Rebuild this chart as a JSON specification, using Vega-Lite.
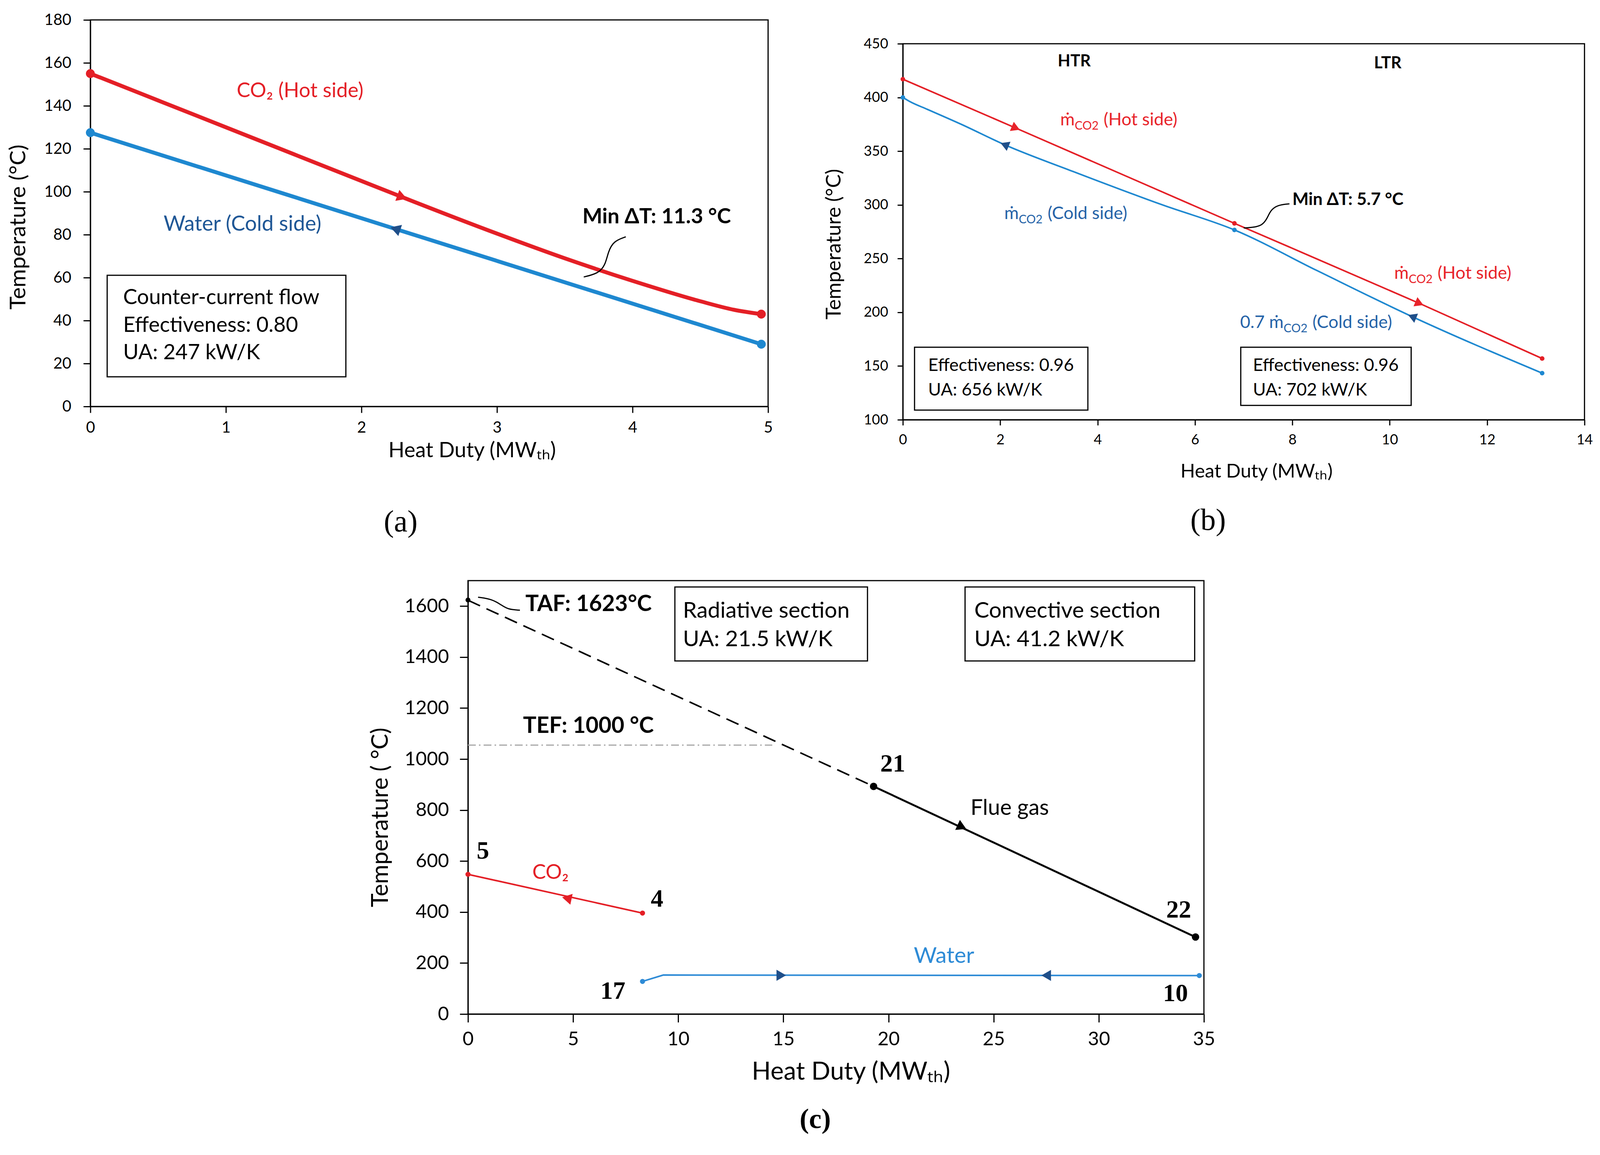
{
  "$schema": "https://vega.github.io/schema/vega-lite/v6.json",
  "background": "white",
  "padding": {"left": 17, "top": 29, "right": 0, "bottom": 0},
  "spacing": 106,
  "center": true,
  "vconcat": [
    {
      "spacing": 127,
      "hconcat": [
        {
          "width": 1735,
          "height": 990,
          "title": {"text": "(a)", "orient": "bottom", "anchor": "middle", "offset": 118, "dx": -73, "font": "Liberation Serif", "fontSize": 78, "fontWeight": "normal", "color": "black"},
          "encoding": {
            "x": {"field": "q", "type": "quantitative", "scale": {"domain": [0, 5], "nice": false}, "title": "Heat Duty (MWₜₕ)",
              "axis": {"values": [0, 1, 2, 3, 4, 5], "tickSize": 16, "labelPadding": 18, "labelFontSize": 40, "titleFontSize": 54, "titlePadding": 12, "titleX": 977}},
            "y": {"field": "t", "type": "quantitative", "scale": {"domain": [0, 180], "nice": false}, "title": "Temperature  (°C)",
              "axis": {"values": [0, 20, 40, 60, 80, 100, 120, 140, 160, 180], "tickSize": 18, "labelPadding": 31, "labelFontSize": 40, "titleFontSize": 57, "titlePadding": 36, "titleY": 530}}
          },
          "layer": [
            {
              "data": {"values": [{"q": 0.124, "q2": 1.885, "t": 61.1, "t2": 13.8}]},
              "mark": {"type": "rect", "fill": "white", "stroke": "black", "strokeWidth": 3},
              "encoding": {"x2": {"field": "q2"}, "y2": {"field": "t2"}}
            },
            {
              "data": {"values": [
                {"q": 0.242, "t": 50.5, "label": "Counter-current  flow"},
                {"q": 0.242, "t": 37.6, "label": "Effectiveness: 0.80"},
                {"q": 0.242, "t": 24.9, "label": "UA: 247 kW/K"}
              ]},
              "mark": {"type": "text", "align": "left", "baseline": "middle", "fontSize": 54, "color": "black"},
              "encoding": {"text": {"field": "label"}}
            },
            {
              "data": {"values": [
                {"s": "CO2", "q": 0, "t": 155},
                {"s": "CO2", "q": 1, "t": 130},
                {"s": "CO2", "q": 2, "t": 105},
                {"s": "CO2", "q": 2.3, "t": 97.5},
                {"s": "CO2", "q": 3, "t": 80.5},
                {"s": "CO2", "q": 3.5, "t": 69},
                {"s": "CO2", "q": 4, "t": 58.5},
                {"s": "CO2", "q": 4.5, "t": 49},
                {"s": "CO2", "q": 4.75, "t": 45},
                {"s": "CO2", "q": 4.95, "t": 43},
                {"s": "Water", "q": 0, "t": 127.5},
                {"s": "Water", "q": 2.25, "t": 82.7},
                {"s": "Water", "q": 4.95, "t": 29}
              ]},
              "mark": {"type": "line", "strokeWidth": 10, "interpolate": "monotone"},
              "encoding": {"color": {"field": "s", "type": "nominal", "scale": {"domain": ["CO2", "Water"], "range": ["#e41f26", "#1e88d0"]}, "legend": null}}
            },
            {
              "data": {"values": [
                {"s": "CO2", "q": 0, "t": 155},
                {"s": "CO2", "q": 4.95, "t": 43},
                {"s": "Water", "q": 0, "t": 127.5},
                {"s": "Water", "q": 4.95, "t": 29}
              ]},
              "mark": {"type": "point", "filled": true, "opacity": 1, "size": 520},
              "encoding": {"color": {"field": "s", "type": "nominal", "legend": null}}
            },
            {
              "data": {"values": [{"q": 2.3, "t": 97.5}]},
              "mark": {"type": "point", "shape": "triangle-right", "angle": 20, "filled": true, "opacity": 1, "size": 900, "color": "#e41f26"},
              "encoding": {}
            },
            {
              "data": {"values": [{"q": 2.25, "t": 82.7}]},
              "mark": {"type": "point", "shape": "triangle-left", "angle": 18, "filled": true, "opacity": 1, "size": 900, "color": "#1f4f8a"},
              "encoding": {}
            },
            {
              "data": {"values": [
                {"q": 3.95, "t": 79},
                {"q": 3.86, "t": 77},
                {"q": 3.82, "t": 72},
                {"q": 3.8, "t": 66},
                {"q": 3.75, "t": 62},
                {"q": 3.64, "t": 60.3}
              ]},
              "mark": {"type": "line", "color": "black", "strokeWidth": 3, "interpolate": "basis"},
              "encoding": {}
            },
            {
              "data": {"values": [{"q": 1.08, "t": 147, "label": "CO₂ (Hot side)"}]},
              "mark": {"type": "text", "align": "left", "baseline": "middle", "fontSize": 52, "color": "#e41f26"},
              "encoding": {"text": {"field": "label"}}
            },
            {
              "data": {"values": [{"q": 0.54, "t": 84.7, "label": "Water (Cold side)"}]},
              "mark": {"type": "text", "align": "left", "baseline": "middle", "fontSize": 54, "color": "#1f5796"},
              "encoding": {"text": {"field": "label"}}
            },
            {
              "data": {"values": [{"q": 3.63, "t": 88.1, "label": "Min ΔT: 11.3 °C"}]},
              "mark": {"type": "text", "align": "left", "baseline": "middle", "fontSize": 54, "fontWeight": "bold", "color": "black"},
              "encoding": {"text": {"field": "label"}}
            }
          ]
        },
        {
          "spacing": 40,
          "vconcat": [
            {
              "width": 10,
              "height": 1,
              "view": {"stroke": null},
              "data": {"values": []},
              "mark": {"type": "point"},
              "encoding": {}
            },
            {
              "width": 1745,
              "height": 963,
              "encoding": {
                "x": {"field": "q", "type": "quantitative", "scale": {"domain": [0, 14], "nice": false}, "title": "Heat Duty (MWₜₕ)",
                  "axis": {"values": [0, 2, 4, 6, 8, 10, 12, 14], "tickSize": 14, "labelPadding": 20, "labelFontSize": 36, "titleFontSize": 49, "titlePadding": 39, "titleX": 905}},
                "y": {"field": "t", "type": "quantitative", "scale": {"domain": [100, 450], "nice": false}, "title": "Temperature  (°C)",
                  "axis": {"values": [100, 150, 200, 250, 300, 350, 400, 450], "tickSize": 14, "labelPadding": 24, "labelFontSize": 36, "titleFontSize": 52, "titlePadding": 48, "titleY": 513}}
              },
              "layer": [
                {
                  "data": {"values": [
                    {"q": 0.24, "q2": 3.8, "t": 167.5, "t2": 109},
                    {"q": 6.94, "q2": 10.44, "t": 167.5, "t2": 113.4}
                  ]},
                  "mark": {"type": "rect", "fill": "white", "stroke": "black", "strokeWidth": 3},
                  "encoding": {"x2": {"field": "q2"}, "y2": {"field": "t2"}}
                },
                {
                  "data": {"values": [
                    {"q": 0.52, "t": 150.7, "label": "Effectiveness: 0.96"},
                    {"q": 0.52, "t": 127.5, "label": "UA: 656 kW/K"},
                    {"q": 7.19, "t": 150.7, "label": "Effectiveness: 0.96"},
                    {"q": 7.19, "t": 127.5, "label": "UA: 702 kW/K"}
                  ]},
                  "mark": {"type": "text", "align": "left", "baseline": "middle", "fontSize": 45, "color": "black"},
                  "encoding": {"text": {"field": "label"}}
                },
                {
                  "data": {"values": [{"q": 6.88}]},
                  "mark": {"type": "rule", "color": "black", "strokeWidth": 3},
                  "encoding": {"y": {"datum": 100, "type": "quantitative"}, "y2": {"datum": 450}}
                },
                {
                  "data": {"values": [
                    {"s": "hot", "q": 0, "t": 417},
                    {"s": "hot", "q": 2.32, "t": 371.5},
                    {"s": "hot", "q": 6.81, "t": 282.8},
                    {"s": "hot", "q": 10.61, "t": 208.3},
                    {"s": "hot", "q": 13.13, "t": 157},
                    {"s": "cold", "q": 0, "t": 400},
                    {"s": "cold", "q": 0.15, "t": 396},
                    {"s": "cold", "q": 0.5, "t": 389},
                    {"s": "cold", "q": 1.2, "t": 375},
                    {"s": "cold", "q": 2.09, "t": 356},
                    {"s": "cold", "q": 3.5, "t": 331},
                    {"s": "cold", "q": 5.33, "t": 300},
                    {"s": "cold", "q": 6.81, "t": 276.7},
                    {"s": "cold", "q": 8.5, "t": 239},
                    {"s": "cold", "q": 10.46, "t": 196},
                    {"s": "cold", "q": 13.13, "t": 143.4}
                  ]},
                  "mark": {"type": "line", "strokeWidth": 4, "interpolate": "monotone"},
                  "encoding": {"color": {"field": "s", "type": "nominal", "scale": {"domain": ["hot", "cold"], "range": ["#e8232a", "#5b9bd5"]}, "legend": null}}
                },
                {
                  "data": {"values": [
                    {"s": "hot", "q": 0, "t": 417},
                    {"s": "hot", "q": 6.81, "t": 282.8},
                    {"s": "hot", "q": 13.13, "t": 157},
                    {"s": "cold", "q": 0, "t": 400},
                    {"s": "cold", "q": 6.81, "t": 276.7},
                    {"s": "cold", "q": 13.13, "t": 143.4}
                  ]},
                  "mark": {"type": "point", "filled": true, "opacity": 1, "size": 140},
                  "encoding": {"color": {"field": "s", "type": "nominal", "legend": null}}
                },
                {
                  "data": {"values": [{"q": 2.32, "t": 371.5}, {"q": 10.61, "t": 208.3}]},
                  "mark": {"type": "point", "shape": "triangle-right", "angle": 23, "filled": true, "opacity": 1, "size": 650, "color": "#e8232a"},
                  "encoding": {}
                },
                {
                  "data": {"values": [{"q": 2.09, "t": 356}, {"q": 10.46, "t": 196}]},
                  "mark": {"type": "point", "shape": "triangle-left", "angle": 22, "filled": true, "opacity": 1, "size": 650, "color": "#1f4f8a"},
                  "encoding": {}
                },
                {
                  "data": {"values": [
                    {"q": 7.94, "t": 301},
                    {"q": 7.7, "t": 300},
                    {"q": 7.55, "t": 295},
                    {"q": 7.48, "t": 287},
                    {"q": 7.38, "t": 281},
                    {"q": 7.2, "t": 279},
                    {"q": 7.0, "t": 278.5}
                  ]},
                  "mark": {"type": "line", "color": "black", "strokeWidth": 3, "interpolate": "basis"},
                  "encoding": {}
                },
                {
                  "data": {"values": [{"q": 3.52, "t": 433.7, "label": "HTR"}, {"q": 9.96, "t": 431.9, "label": "LTR"}]},
                  "mark": {"type": "text", "align": "center", "baseline": "middle", "fontSize": 42, "fontWeight": "bold", "color": "black"},
                  "encoding": {"text": {"field": "label"}}
                },
                {
                  "data": {"values": [{"q": 8.0, "t": 304.5, "label": "Min ΔT: 5.7 °C"}]},
                  "mark": {"type": "text", "align": "left", "baseline": "middle", "fontSize": 44, "fontWeight": "bold", "color": "black"},
                  "encoding": {"text": {"field": "label"}}
                },
                {
                  "data": {"values": [
                    {"q": 3.53, "t": 379, "pre": "ṁ", "sub": "CO2", "suf": "(Hot side)"},
                    {"q": 10.39, "t": 236.3, "pre": "ṁ", "sub": "CO2", "suf": "(Hot side)"}
                  ]},
                  "layer": [
                    {"mark": {"type": "text", "align": "right", "baseline": "middle", "fontSize": 45, "color": "#e8232a"}, "encoding": {"text": {"field": "pre"}}},
                    {"mark": {"type": "text", "align": "left", "baseline": "middle", "dy": 16, "fontSize": 30, "color": "#e8232a"}, "encoding": {"text": {"field": "sub"}}},
                    {"mark": {"type": "text", "align": "left", "baseline": "middle", "dx": 74, "fontSize": 45, "color": "#e8232a"}, "encoding": {"text": {"field": "suf"}}}
                  ]
                },
                {
                  "data": {"values": [
                    {"q": 2.38, "t": 292, "pre": "ṁ", "sub": "CO2", "suf": "(Cold side)"},
                    {"q": 7.82, "t": 190.5, "pre": "0.7 ṁ", "sub": "CO2", "suf": "(Cold side)"}
                  ]},
                  "layer": [
                    {"mark": {"type": "text", "align": "right", "baseline": "middle", "fontSize": 45, "color": "#2563a8"}, "encoding": {"text": {"field": "pre"}}},
                    {"mark": {"type": "text", "align": "left", "baseline": "middle", "dy": 16, "fontSize": 30, "color": "#2563a8"}, "encoding": {"text": {"field": "sub"}}},
                    {"mark": {"type": "text", "align": "left", "baseline": "middle", "dx": 74, "fontSize": 45, "color": "#2563a8"}, "encoding": {"text": {"field": "suf"}}}
                  ]
                },
                {
                  "data": {"values": [{"q": 6.27, "t": 5.85, "label": "(b)"}]},
                  "mark": {"type": "text", "align": "center", "baseline": "middle", "font": "Liberation Serif", "fontSize": 78, "color": "black"},
                  "encoding": {"text": {"field": "label"}}
                }
              ]
            }
          ]
        }
      ]
    },
    {
      "width": 1884,
      "height": 1110,
      "title": {"text": "(c)", "orient": "bottom", "anchor": "middle", "offset": 55, "dx": -53, "font": "Liberation Serif", "fontSize": 72, "fontWeight": "bold", "color": "black"},
      "encoding": {
        "x": {"field": "q", "type": "quantitative", "scale": {"domain": [0, 35], "nice": false}, "title": "Heat Duty (MWₜₕ)",
          "axis": {"values": [0, 5, 10, 15, 20, 25, 30, 35], "tickSize": 21, "labelPadding": 19, "labelFontSize": 49, "titleFontSize": 64, "titlePadding": 27, "titleX": 980}},
        "y": {"field": "t", "type": "quantitative", "scale": {"domain": [0, 1700], "nice": false}, "title": "Temperature  ( °C)",
          "axis": {"values": [0, 200, 400, 600, 800, 1000, 1200, 1400, 1600], "format": "d", "tickSize": 21, "labelPadding": 28, "labelFontSize": 49, "titleFontSize": 60, "titlePadding": 30, "titleY": 606}}
      },
      "layer": [
        {
          "data": {"values": [
            {"q": 9.84, "q2": 19.0, "t": 1675, "t2": 1385},
            {"q": 23.64, "q2": 34.56, "t": 1675, "t2": 1385}
          ]},
          "mark": {"type": "rect", "fill": "white", "stroke": "black", "strokeWidth": 3},
          "encoding": {"x2": {"field": "q2"}, "y2": {"field": "t2"}}
        },
        {
          "data": {"values": [
            {"q": 10.22, "t": 1581, "label": "Radiative section"},
            {"q": 10.22, "t": 1468, "label": "UA: 21.5 kW/K"},
            {"q": 24.08, "t": 1581, "label": "Convective section"},
            {"q": 24.08, "t": 1468, "label": "UA: 41.2 kW/K"}
          ]},
          "mark": {"type": "text", "align": "left", "baseline": "middle", "fontSize": 57, "color": "black"},
          "encoding": {"text": {"field": "label"}}
        },
        {
          "data": {"values": [{"q": 19.29}]},
          "mark": {"type": "rule", "color": "black", "strokeWidth": 3},
          "encoding": {"y": {"datum": 0, "type": "quantitative"}, "y2": {"datum": 1700}}
        },
        {
          "data": {"values": [{"q": 0, "t": 1055}, {"q": 14.47, "t": 1055}]},
          "mark": {"type": "line", "color": "#a6a6a6", "strokeWidth": 3, "strokeDash": [20, 8, 4, 8]},
          "encoding": {}
        },
        {
          "data": {"values": [{"q": 0, "t": 1623}, {"q": 19.29, "t": 893}]},
          "mark": {"type": "line", "color": "black", "strokeWidth": 4, "strokeDash": [34, 18]},
          "encoding": {}
        },
        {
          "data": {"values": [{"q": 19.29, "t": 893}, {"q": 34.6, "t": 302}]},
          "mark": {"type": "line", "color": "black", "strokeWidth": 5},
          "encoding": {}
        },
        {
          "data": {"values": [{"q": 0, "t": 548}, {"q": 8.3, "t": 396}]},
          "mark": {"type": "line", "color": "#e41f26", "strokeWidth": 4},
          "encoding": {}
        },
        {
          "data": {"values": [{"q": 8.3, "t": 128}, {"q": 9.29, "t": 153}, {"q": 34.78, "t": 151}]},
          "mark": {"type": "line", "color": "#2e8bd6", "strokeWidth": 4},
          "encoding": {}
        },
        {
          "data": {"values": [{"q": 0, "t": 1624}]},
          "mark": {"type": "point", "filled": true, "opacity": 1, "size": 160, "color": "black"},
          "encoding": {}
        },
        {
          "data": {"values": [{"q": 19.29, "t": 893}, {"q": 34.6, "t": 302}]},
          "mark": {"type": "point", "filled": true, "opacity": 1, "size": 360, "color": "black"},
          "encoding": {}
        },
        {
          "data": {"values": [{"q": 0, "t": 548}, {"q": 8.3, "t": 396}]},
          "mark": {"type": "point", "filled": true, "opacity": 1, "size": 170, "color": "#e41f26"},
          "encoding": {}
        },
        {
          "data": {"values": [{"q": 8.3, "t": 128}, {"q": 34.78, "t": 151}]},
          "mark": {"type": "point", "filled": true, "opacity": 1, "size": 170, "color": "#2e8bd6"},
          "encoding": {}
        },
        {
          "data": {"values": [{"q": 23.49, "t": 734}]},
          "mark": {"type": "point", "shape": "triangle-right", "angle": 25, "filled": true, "opacity": 1, "size": 800, "color": "black"},
          "encoding": {}
        },
        {
          "data": {"values": [{"q": 4.7, "t": 454}]},
          "mark": {"type": "point", "shape": "triangle-left", "angle": 12, "filled": true, "opacity": 1, "size": 800, "color": "#e41f26"},
          "encoding": {}
        },
        {
          "data": {"values": [{"q": 14.9, "t": 152}]},
          "mark": {"type": "point", "shape": "triangle-right", "filled": true, "opacity": 1, "size": 800, "color": "#1f4f8a"},
          "encoding": {}
        },
        {
          "data": {"values": [{"q": 27.5, "t": 151.5}]},
          "mark": {"type": "point", "shape": "triangle-left", "filled": true, "opacity": 1, "size": 800, "color": "#1f4f8a"},
          "encoding": {}
        },
        {
          "data": {"values": [
            {"q": 0.48, "t": 1635},
            {"q": 1.15, "t": 1627},
            {"q": 1.56, "t": 1606},
            {"q": 1.89, "t": 1587},
            {"q": 2.47, "t": 1584}
          ]},
          "mark": {"type": "line", "color": "black", "strokeWidth": 3, "interpolate": "basis"},
          "encoding": {}
        },
        {
          "data": {"values": [
            {"q": 0.71, "t": 638, "label": "5"},
            {"q": 8.99, "t": 451, "label": "4"},
            {"q": 20.2, "t": 980, "label": "21"},
            {"q": 33.8, "t": 407, "label": "22"},
            {"q": 6.89, "t": 89, "label": "17"},
            {"q": 33.65, "t": 80, "label": "10"}
          ]},
          "mark": {"type": "text", "align": "center", "baseline": "middle", "font": "Liberation Serif", "fontSize": 64, "fontWeight": "bold", "color": "black"},
          "encoding": {"text": {"field": "label"}}
        },
        {
          "data": {"values": [{"q": 23.9, "t": 807, "label": "Flue gas"}]},
          "mark": {"type": "text", "align": "left", "baseline": "middle", "fontSize": 56, "color": "black"},
          "encoding": {"text": {"field": "label"}}
        },
        {
          "data": {"values": [{"q": 3.06, "t": 555, "label": "CO₂"}]},
          "mark": {"type": "text", "align": "left", "baseline": "middle", "fontSize": 52, "color": "#e41f26"},
          "encoding": {"text": {"field": "label"}}
        },
        {
          "data": {"values": [{"q": 21.2, "t": 226, "label": "Water"}]},
          "mark": {"type": "text", "align": "left", "baseline": "middle", "fontSize": 57, "color": "#2e8bd6"},
          "encoding": {"text": {"field": "label"}}
        },
        {
          "data": {"values": [
            {"q": 2.73, "t": 1606, "label": "TAF: 1623°C"},
            {"q": 2.62, "t": 1128, "label": "TEF: 1000 °C"}
          ]},
          "mark": {"type": "text", "align": "left", "baseline": "middle", "fontSize": 57, "fontWeight": "bold", "color": "black"},
          "encoding": {"text": {"field": "label"}}
        }
      ]
    }
  ],
  "config": {
    "font": "Lato",
    "view": {"stroke": "black", "strokeWidth": 3},
    "axis": {
      "grid": false,
      "domainColor": "black",
      "domainWidth": 3,
      "tickColor": "black",
      "tickWidth": 3,
      "labelColor": "black",
      "titleColor": "black",
      "labelFont": "Lato",
      "titleFont": "Lato",
      "titleFontWeight": "normal",
      "labelFlush": false,
      "labelOverlap": false,
      "labelBound": false
    },
    "text": {"font": "Lato"}
  }
}
